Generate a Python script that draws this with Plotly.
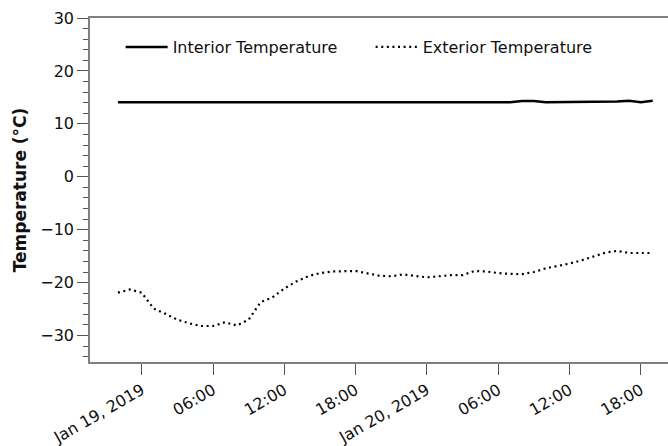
import pandas as pd
import plotly.graph_objects as go

times = pd.date_range("2019-01-18 22:00", "2019-01-20 19:00", freq="h")

exterior = [-21.9, -21.3, -21.9, -24.9, -25.9, -27.0, -27.7, -28.2, -28.2, -27.5,
            -28.1, -27.0, -23.7, -22.8, -21.1, -19.8, -18.8, -18.2, -17.9, -17.8,
            -17.8, -18.25, -18.7, -18.8, -18.45, -18.75, -19.0, -18.8, -18.6, -18.6,
            -17.8, -17.9, -18.2, -18.35, -18.4, -18.0, -17.3, -16.85, -16.4, -15.8,
            -15.1, -14.35, -14.0, -14.4, -14.4, -14.4]

interior = [14.1, 14.1, 14.1, 14.1, 14.1, 14.1, 14.1, 14.1, 14.1, 14.1,
            14.1, 14.1, 14.1, 14.1, 14.1, 14.1, 14.1, 14.1, 14.1, 14.1,
            14.1, 14.1, 14.1, 14.1, 14.1, 14.1, 14.1, 14.1, 14.1, 14.1,
            14.1, 14.1, 14.1, 14.1, 14.3, 14.3, 14.1, 14.1, 14.1, 14.1,
            14.1, 14.1, 14.2, 14.35, 14.1, 14.35]

tick_vals = ["2019-01-19 00:00", "2019-01-19 06:00", "2019-01-19 12:00", "2019-01-19 18:00",
             "2019-01-20 00:00", "2019-01-20 06:00", "2019-01-20 12:00", "2019-01-20 18:00"]
tick_text = ["Jan 19, 2019", "06:00", "12:00", "18:00",
             "Jan 20, 2019", "06:00", "12:00", "18:00"]

font = "DejaVu Sans"
fs = 16

fig = go.Figure()
fig.add_trace(go.Scatter(x=times, y=interior, mode="lines", name="Interior Temperature",
                         line=dict(color="black", width=2.5)))
fig.add_trace(go.Scatter(x=times, y=exterior, mode="lines", name="Exterior Temperature",
                         line=dict(color="black", width=2.2, dash="2px,3.6px")))

fig.update_layout(
    width=668, height=446,
    margin=dict(l=90, r=0, t=18, b=84),
    paper_bgcolor="white", plot_bgcolor="white",
    font=dict(family=font, size=fs, color="#111"),
    legend=dict(orientation="h", x=0.053, y=0.965, xanchor="left", yanchor="top",
                font=dict(family=font, size=fs, color="#111"),
                bgcolor="rgba(0,0,0,0)", entrywidth=193, itemwidth=42),
    showlegend=True,
)
fig.update_xaxes(
    range=["2019-01-18 19:39", "2019-01-20 20:17"],
    tickvals=tick_vals, ticktext=tick_text, tickangle=-30,
    ticks="outside", ticklen=11, tickcolor="#555", tickwidth=1,
    showline=True, linecolor="#808080", linewidth=1.5, mirror=True,
    showgrid=False, zeroline=False,
    tickfont=dict(family=font, size=fs, color="#111"),
)
fig.update_yaxes(
    range=[-35, 30], dtick=10, tick0=0,
    ticks="outside", ticklen=11, tickcolor="#555", tickwidth=1,
    minor=dict(dtick=2, ticks="outside", ticklen=5, tickcolor="#555", tickwidth=1, showgrid=False),
    showline=True, linecolor="#808080", linewidth=1.5, mirror=False,
    showgrid=False, zeroline=False,
    tickfont=dict(family=font, size=fs, color="#111"),
    title=dict(text="<b>Temperature (°C)</b>", font=dict(family=font, size=17, color="#111"),
               standoff=9),
)

fig.write_html("out.html")
